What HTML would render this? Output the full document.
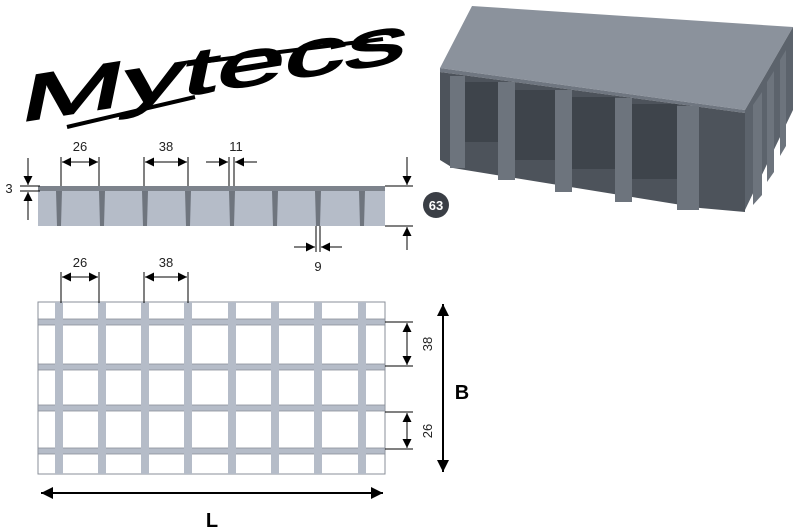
<!DOCTYPE html>
<html><head><style>body{margin:0;background:#fff}svg{display:block}text{font-family:"Liberation Sans",sans-serif}</style></head>
<body>
<svg width="800" height="529" viewBox="0 0 800 529" xmlns="http://www.w3.org/2000/svg">
<defs>
<marker id="a" viewBox="0 0 10 10" refX="10" refY="5" markerWidth="10" markerHeight="9" markerUnits="userSpaceOnUse" orient="auto-start-reverse"><path d="M0,0L10,5L0,10z" fill="#000"/></marker>
<marker id="b" viewBox="0 0 10 10" refX="10" refY="5" markerWidth="14" markerHeight="12" markerUnits="userSpaceOnUse" orient="auto-start-reverse"><path d="M0,0L10,5L0,10z" fill="#000"/></marker>
</defs>
<!-- logo -->
<g transform="translate(18,122) skewY(-9) skewX(-12)">
<text x="0" y="0" font-size="64" fill="#000" stroke="#000" stroke-width="1.8" textLength="385" lengthAdjust="spacingAndGlyphs">Mytecs</text>
</g>
<line x1="67" y1="127" x2="195" y2="97" stroke="#000" stroke-width="4"/>
<line x1="200" y1="62" x2="383" y2="39" stroke="#000" stroke-width="4"/>
<!-- 3D block -->
<polygon points="440,68 472,6 793,27 745,110" fill="#8b929c"/>
<polygon points="440,68 745,110 745,113 440,72" fill="#6f7680"/>
<polygon points="745,110 793,27 793,110 745,210" fill="#5c636c"/>
<polygon points="440,72 745,113 745,212 700,208 453,168 440,160" fill="#4d535b"/>
<g fill="#3e444b"><rect x="465" y="82" width="33" height="60"/><rect x="515" y="90" width="40" height="70"/><rect x="572" y="97" width="43" height="72"/><rect x="632" y="104" width="45" height="75"/></g>
<g fill="#6d747d">
<rect x="450" y="76" width="15" height="92"/>
<rect x="498" y="82" width="17" height="98"/>
<rect x="555" y="90" width="17" height="102"/>
<rect x="615" y="98" width="17" height="104"/>
<rect x="677" y="106" width="22" height="104"/>
<polygon points="753,105 762,92 762,195 753,205"/>
<polygon points="767,82 774,71 774,172 767,182"/>
<polygon points="780,60 786,50 786,146 780,156"/>
</g>
<!-- side section -->
<rect x="38" y="191" width="347" height="35" fill="#b5bcc8"/>
<rect x="38" y="186" width="347" height="5" fill="#7d838c"/>
<g fill="#6f757e">
<polygon points="56,191 62,191 61,226 57,226"/><polygon points="99,191 105,191 104,226 100,226"/><polygon points="142,191 148,191 147,226 143,226"/><polygon points="185,191 191,191 190,226 186,226"/><polygon points="229,191 235,191 234,226 230,226"/><polygon points="272,191 278,191 277,226 273,226"/><polygon points="315,191 321,191 320,226 316,226"/><polygon points="359,191 365,191 364,226 360,226"/>
</g>
<g stroke="#000" stroke-width="1" fill="none">
<line x1="61" y1="157" x2="61" y2="186"/><line x1="99" y1="157" x2="99" y2="186"/>
<line x1="144" y1="157" x2="144" y2="186"/><line x1="188" y1="157" x2="188" y2="186"/>
<line x1="229" y1="157" x2="229" y2="186"/><line x1="234" y1="157" x2="234" y2="186"/>
<line x1="62" y1="162" x2="98" y2="162" marker-start="url(#a)" marker-end="url(#a)"/>
<line x1="145" y1="162" x2="187" y2="162" marker-start="url(#a)" marker-end="url(#a)"/>
<line x1="206" y1="162" x2="228" y2="162" marker-end="url(#a)"/><line x1="257" y1="162" x2="235" y2="162" marker-end="url(#a)"/>
<line x1="20" y1="186" x2="40" y2="186"/><line x1="20" y1="191" x2="40" y2="191"/>
<line x1="28" y1="158" x2="28" y2="185" marker-end="url(#a)"/><line x1="28" y1="220" x2="28" y2="192" marker-end="url(#a)"/>
<line x1="385" y1="186" x2="413" y2="186"/><line x1="385" y1="226" x2="413" y2="226"/>
<line x1="407" y1="157" x2="407" y2="185" marker-end="url(#a)"/><line x1="407" y1="250" x2="407" y2="227" marker-end="url(#a)"/>
<line x1="316" y1="226" x2="316" y2="252"/><line x1="320" y1="226" x2="320" y2="252"/>
<line x1="294" y1="247" x2="315" y2="247" marker-end="url(#a)"/><line x1="342" y1="247" x2="321" y2="247" marker-end="url(#a)"/>
</g>
<g font-size="13" fill="#222" text-anchor="middle">
<text x="80" y="151">26</text><text x="166" y="151">38</text><text x="236" y="151">11</text>
<text x="9" y="193">3</text><text x="318" y="271">9</text>
<text x="80" y="267">26</text><text x="166" y="267">38</text>
</g>
<circle cx="436" cy="205" r="13" fill="#3a3e45"/>
<text x="436" y="210" font-size="13" font-weight="bold" fill="#fff" text-anchor="middle">63</text>
<!-- plan -->
<rect x="38" y="302" width="347" height="172" fill="#fff" stroke="#8a8f99"/>
<g fill="#b5bcc8" stroke="#8a8f99" stroke-width="0.8">
<rect x="38" y="319" width="347" height="6"/><rect x="38" y="364" width="347" height="6"/><rect x="38" y="405" width="347" height="6"/><rect x="38" y="448" width="347" height="6"/>
</g>
<g fill="#b5bcc8">
<rect x="55" y="302" width="8" height="172"/><rect x="98" y="302" width="8" height="172"/><rect x="141" y="302" width="8" height="172"/><rect x="184" y="302" width="8" height="172"/><rect x="228" y="302" width="8" height="172"/><rect x="271" y="302" width="8" height="172"/><rect x="314" y="302" width="8" height="172"/><rect x="358" y="302" width="8" height="172"/>
</g>
<g stroke="#000" stroke-width="1" fill="none">
<line x1="61" y1="272" x2="61" y2="303"/><line x1="99" y1="272" x2="99" y2="303"/>
<line x1="144" y1="272" x2="144" y2="303"/><line x1="188" y1="272" x2="188" y2="303"/>
<line x1="62" y1="277" x2="98" y2="277" marker-start="url(#a)" marker-end="url(#a)"/>
<line x1="145" y1="277" x2="187" y2="277" marker-start="url(#a)" marker-end="url(#a)"/>
<line x1="385" y1="322" x2="413" y2="322"/><line x1="385" y1="366" x2="413" y2="366"/>
<line x1="385" y1="412" x2="413" y2="412"/><line x1="385" y1="449" x2="413" y2="449"/>
<line x1="407" y1="323" x2="407" y2="365" marker-start="url(#a)" marker-end="url(#a)"/>
<line x1="407" y1="413" x2="407" y2="448" marker-start="url(#a)" marker-end="url(#a)"/>
<line x1="443" y1="304" x2="443" y2="472" stroke-width="2" marker-start="url(#b)" marker-end="url(#b)"/>
<line x1="41" y1="493" x2="383" y2="493" stroke-width="2" marker-start="url(#b)" marker-end="url(#b)"/>
</g>
<g font-size="13" fill="#222" text-anchor="middle">
<text transform="translate(432,344) rotate(-90)">38</text>
<text transform="translate(432,431) rotate(-90)">26</text>
</g>
<text x="462" y="399" font-size="20" font-weight="bold" text-anchor="middle">B</text>
<text x="212" y="527" font-size="20" font-weight="bold" text-anchor="middle">L</text>
</svg>
</body></html>
